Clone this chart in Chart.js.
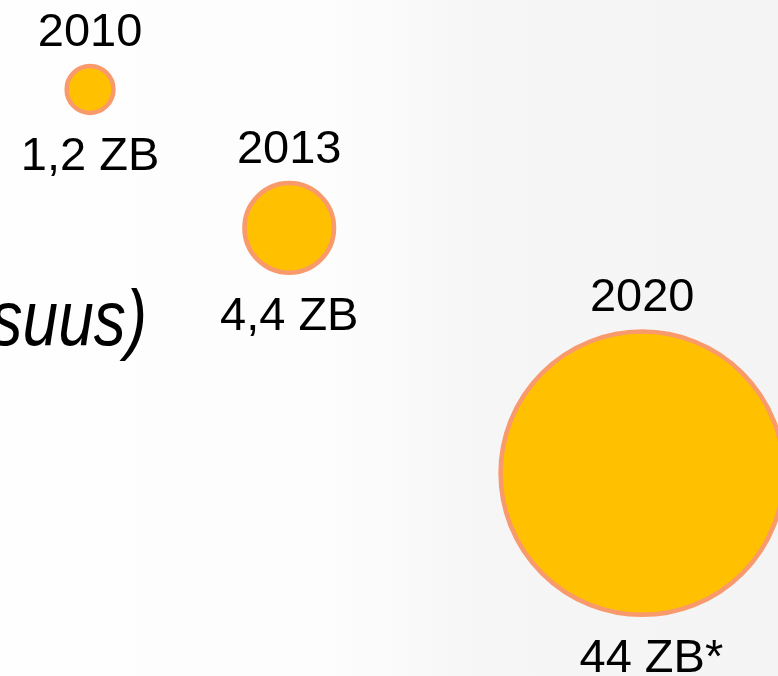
<!DOCTYPE html>
<html>
<head>
<meta charset="utf-8">
<script src="https://cdn.jsdelivr.net/npm/chart.js@4/dist/chart.umd.min.js"></script>
<style>
html,body{margin:0;padding:0;background:#fff;overflow:hidden}
canvas{display:block}
</style>
</head>
<body>
<canvas id="c" width="778" height="676"></canvas>
<script>
// ---- data ----
const years = ['2010', '2013', '2020'];
const volumesZB = [1.2, 4.4, 44];
const volumeLabels = ['1,2 ZB', '4,4 ZB', '44 ZB'];
const footnoteMarks = ['', '', '*'];
const captionTail = 'suus)';

const FONT = '"Liberation Sans", Arial, sans-serif';

const bgPlugin = {
  id: 'slideBg',
  beforeDraw(chart) {
    const {ctx, width, height} = chart;
    ctx.save();
    const g = ctx.createLinearGradient(0, 0, width, 0);
    g.addColorStop(0, '#fefefe');
    g.addColorStop(0.42, '#fdfdfd');
    g.addColorStop(0.62, '#f6f6f6');
    g.addColorStop(1, '#f4f4f4');
    ctx.fillStyle = g;
    ctx.fillRect(0, 0, width, height);
    ctx.restore();
  }
};

const labelPlugin = {
  id: 'bubbleLabels',
  afterDatasetsDraw(chart) {
    const {ctx} = chart;
    const meta = chart.getDatasetMeta(0);
    ctx.save();
    ctx.fillStyle = '#000';
    ctx.font = '47px ' + FONT;
    ctx.textBaseline = 'alphabetic';
    meta.data.forEach((el, i) => {
      const r = el.options.radius + el.options.borderWidth / 2;
      ctx.textAlign = 'center';
      ctx.fillText(years[i], el.x, el.y - r - 18);
      const main = volumeLabels[i];
      const w = ctx.measureText(main).width;
      ctx.fillText(main, el.x, el.y + r + 55);
      if (footnoteMarks[i]) {
        ctx.textAlign = 'left';
        ctx.fillText(footnoteMarks[i], el.x + w / 2, el.y + r + 55);
      }
    });
    // tail of the slide title, cut by the left edge
    ctx.translate(147, 345);
    ctx.scale(0.82, 1);
    ctx.font = 'italic 78px ' + FONT;
    ctx.textAlign = 'right';
    ctx.fillText(captionTail, 0, 0);
    ctx.restore();
  }
};

new Chart(document.getElementById('c'), {
  type: 'bubble',
  data: {
    labels: years,
    datasets: [{
      data: volumesZB.map(v => ({x: v, y: v, v: v})),
      backgroundColor: '#FFC000',
      borderColor: '#F89A6C',
      borderWidth: 4.5,
      radius: ctx => 21.35 * Math.sqrt(ctx.raw.v),
      clip: false
    }]
  },
  options: {
    responsive: false,
    animation: false,
    events: [],
    layout: {padding: 0, autoPadding: false},
    plugins: {legend: {display: false}, tooltip: {enabled: false}},
    scales: {
      x: {type: 'logarithmic', display: false, bounds: 'data', min: 0.667, max: 106.7},
      y: {type: 'logarithmic', display: false, bounds: 'data', reverse: true, min: 0.518, max: 295.3}
    }
  },
  plugins: [bgPlugin, labelPlugin]
});
</script>
</body>
</html>
